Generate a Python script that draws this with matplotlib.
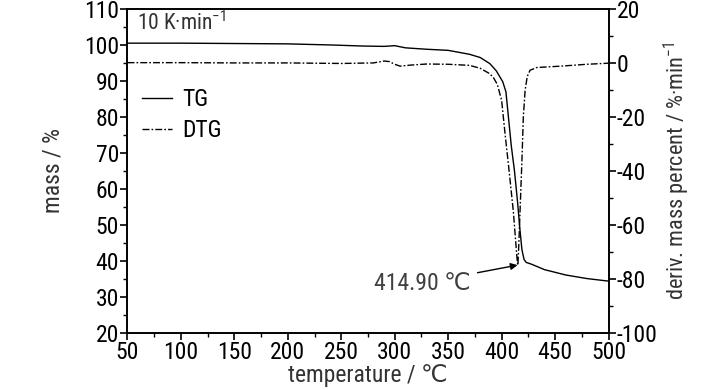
import matplotlib
matplotlib.use("Agg")
import matplotlib.pyplot as plt
from matplotlib import font_manager
from matplotlib.ticker import MultipleLocator

names = {f.name for f in font_manager.fontManager.ttflist}
main_font = "Liberation Sans"
for cand in ["Liberation Sans Narrow", "Arial Narrow", "Roboto Condensed", "Open Sans Condensed",
             "Noto Sans Condensed", "DejaVu Sans Condensed"]:
    if cand in names:
        main_font = cand
        break
plt.rcParams["font.family"] = [main_font, "DejaVu Sans"]
plt.rcParams["mathtext.fontset"] = "custom"
plt.rcParams["mathtext.rm"] = main_font
plt.rcParams["mathtext.it"] = main_font
plt.rcParams["axes.unicode_minus"] = False

# ---- data ----
tg_temp = [50, 100, 150, 200, 240, 270, 290, 300, 310, 330, 350, 370, 380, 389,
           395, 401, 404, 406, 409, 412, 415, 417, 419, 421, 423, 428, 440, 460, 480, 500]
tg_mass = [100.5, 100.5, 100.4, 100.3, 100.0, 99.7, 99.6, 99.8, 99.2, 98.8, 98.5, 97.4, 96.5, 94.8,
           92.8, 89.8, 87.0, 81.0, 72.0, 65.0, 56.0, 49.0, 43.0, 40.3, 39.5, 39.0, 37.5, 36.0, 35.0, 34.3]

dtg_temp = [50, 100, 150, 200, 250, 280, 290, 295, 300, 305, 315, 330, 350, 370, 380, 388,
            392, 396, 400, 403.2, 406.3, 410.9, 414.6, 415.2, 416, 417.5, 419, 420.3, 422, 424,
            426.6, 433, 455, 480, 500]
dtg_val = [0.1, 0.1, 0.0, 0.0, -0.2, 0.0, 0.7, 0.5, -0.5, -1.2, -0.8, -0.4, -0.5, -0.9, -2.0, -3.8,
           -5.2, -8.0, -13.9, -26.3, -37.5, -54.9, -73.5, -75.0, -68.0, -52.0, -36.0, -20.0, -10.0, -5.0,
           -2.7, -1.7, -1.2, -0.5, -0.1]

peak_temp = 414.90
peak_val = -75.0

fig = plt.figure(figsize=(7.28, 3.90), dpi=100)
ax = fig.add_axes([0.1751, 0.1474, 0.6608, 0.8295])
ax2 = ax.twinx()

lw = 1.0
ax.plot(tg_temp, tg_mass, color="black", lw=lw, label="TG")
ax2.plot(dtg_temp, dtg_val, color="black", lw=lw, linestyle=(0, (5, 1.5, 1.2, 1.5)), label="DTG")

ax.set_xlim(50, 500)
ax.set_ylim(20, 110)
ax2.set_ylim(-100, 20)

ax.xaxis.set_major_locator(MultipleLocator(50))
ax.xaxis.set_minor_locator(MultipleLocator(25))
ax.yaxis.set_major_locator(MultipleLocator(10))
ax.yaxis.set_minor_locator(MultipleLocator(5))
ax2.yaxis.set_major_locator(MultipleLocator(20))
ax2.yaxis.set_minor_locator(MultipleLocator(10))

fs = 17
for a in (ax, ax2):
    for s in a.spines.values():
        s.set_linewidth(1.2)
    a.tick_params(which="major", direction="out", length=5, width=1.2, labelsize=fs, pad=1)
    a.tick_params(which="minor", direction="out", length=3, width=1.0)
ax.tick_params(axis="x", which="both", top=False)
ax.tick_params(axis="x", pad=1)

lab_col = "#333333"
ax.set_xlabel("temperature / ℃", fontsize=fs, color=lab_col, labelpad=0)
ax.set_ylabel("mass / %", fontsize=fs, color=lab_col, labelpad=14)
ax2.set_ylabel("deriv. mass percent / %·min$^{-1}$", fontsize=16, color=lab_col, labelpad=3)

ax.text(0.02, 0.955, "10 K·min$^{-1}$", transform=ax.transAxes, fontsize=15.5, color=lab_col,
        ha="left", va="center")

h1, l1 = ax.get_legend_handles_labels()
h2, l2 = ax2.get_legend_handles_labels()
ax.legend(h1 + h2, l1 + l2, loc="upper left", bbox_to_anchor=(0.0, 0.80), frameon=False,
          fontsize=fs, handlelength=1.3, handletextpad=0.4, labelspacing=0.35, borderpad=0.3,
          borderaxespad=0.3)

ax2.annotate("414.90 ℃", xy=(peak_temp, peak_val), xytext=(371, -81.7),
             fontsize=fs, color="#404040", ha="right", va="center",
             arrowprops=dict(arrowstyle="-|>", color="black", lw=1.0, mutation_scale=10,
                             shrinkA=3, shrinkB=0))

fig.savefig("out.png", dpi=100)
